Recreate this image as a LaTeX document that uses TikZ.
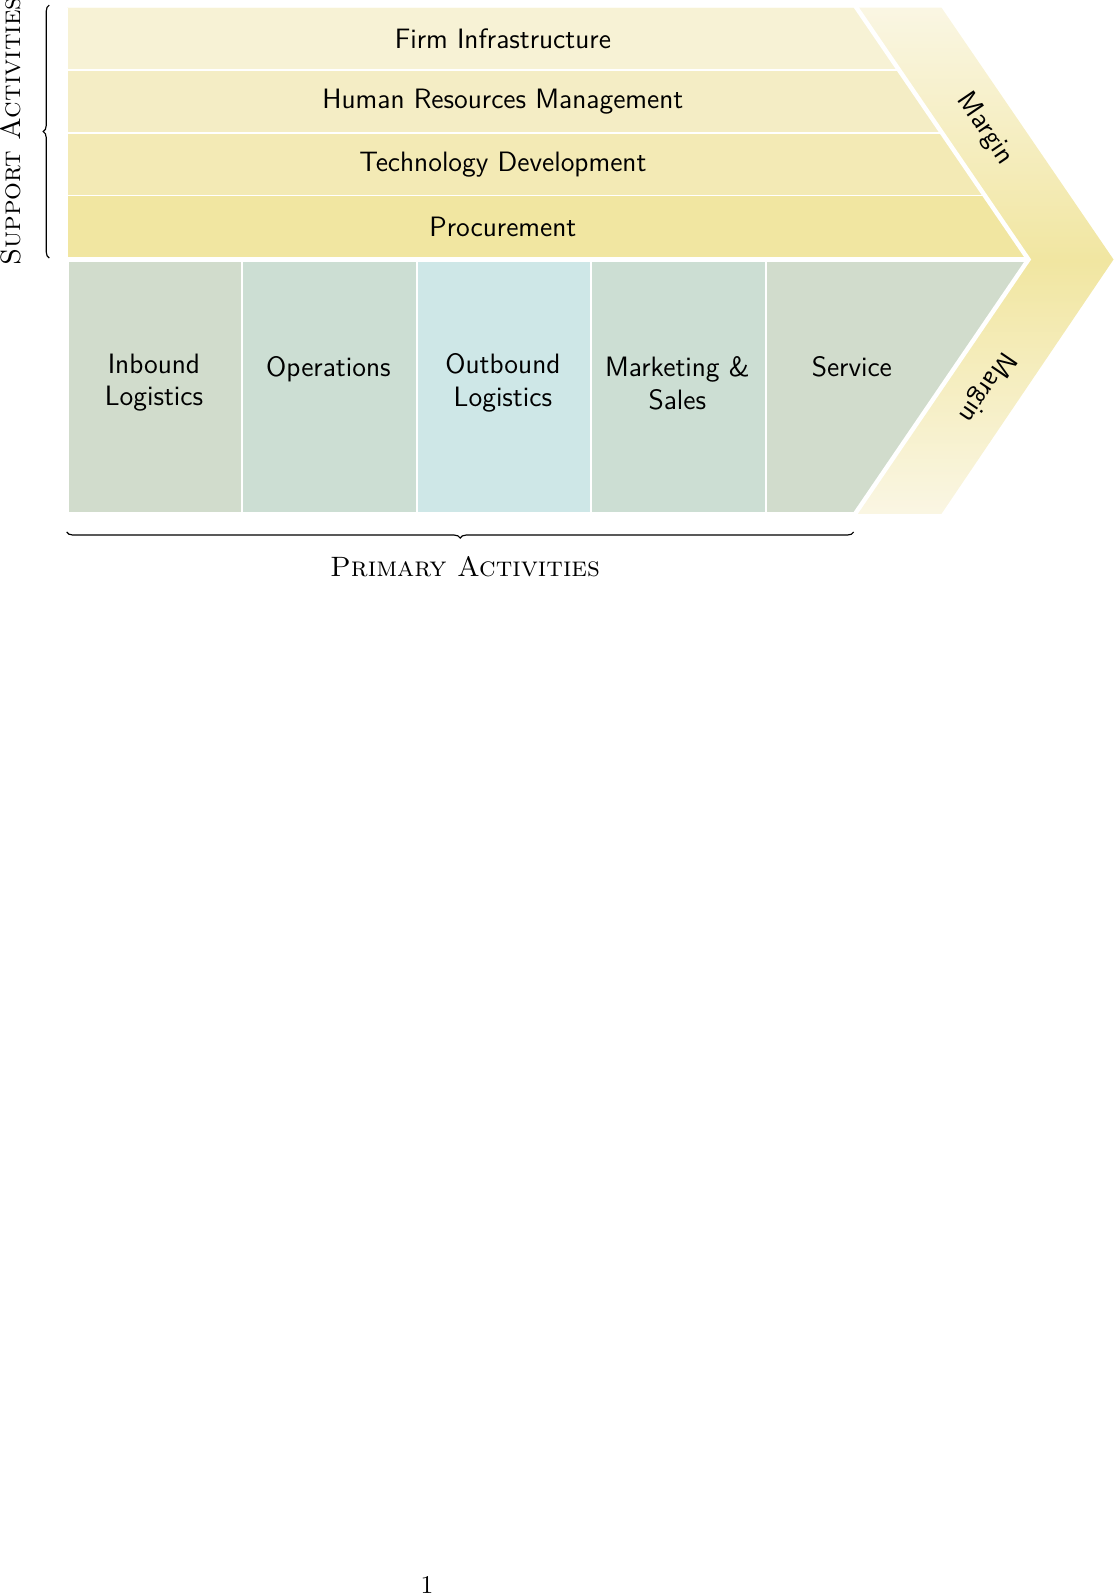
\documentclass[tikz,border=0pt,11pt]{standalone}
\usepackage{tikz}
\usetikzlibrary{positioning,decorations.pathreplacing}
\definecolor{firmcream}{RGB}{247,242,213}
\definecolor{hrcream}{RGB}{244,237,197}
\definecolor{techcream}{RGB}{243,234,181}
\definecolor{procsand}{RGB}{241,230,161}
\definecolor{marginlight}{RGB}{250,246,227}
\definecolor{sagegrey}{RGB}{209,220,204}
\definecolor{sagegreen}{RGB}{204,222,211}
\definecolor{paleaqua}{RGB}{206,231,231}
\tikzset{
  base/.style={font=\sffamily\large, align=center, text=black},
  band/.style={rectangle, anchor=south west, draw=white, line width=0.5pt, minimum width=14.6cm, minimum height=0.948cm, inner sep=0pt},
  column/.style={rectangle, anchor=south west, draw=white, line width=0.9pt, minimum width=2.625cm, minimum height=3.829cm, inner sep=0pt},
  coltext/.style={base, anchor=north, inner sep=0pt},
  gap/.style={draw=white, line width=1.9pt},
  brc/.style={decorate, decoration={brace, amplitude=2.6pt}, line width=0.5pt},
  brcm/.style={decorate, decoration={brace, mirror, amplitude=2.6pt}, line width=0.5pt},
  sidelabel/.style={font=\large\scshape, inner sep=0pt},
  marginlbl/.style={font=\sffamily\large, inner sep=0pt},
}
\begin{document}
\begin{tikzpicture}
  \useasboundingbox (-1.0035,-16.264) rectangle (15.772,7.733);
  \path[top color=marginlight, bottom color=marginlight, middle color=procsand] (11.88,7.62) -- (13.16,7.62) -- (15.75,3.829) -- (13.16,0) -- (11.86,0) -- (14.47,3.829) -- cycle;
  \begin{scope}
    \clip (0,0) -- (0,7.62) -- (11.88,7.62) -- (14.47,3.829) -- (11.86,0) -- cycle;
    \node[band,fill=procsand]  (proc) at (0,3.829) {};
    \node[band,fill=techcream] (tech) at (0,4.777) {};
    \node[band,fill=hrcream]   (hrm)  at (0,5.724) {};
    \node[band,fill=firmcream] (firm) at (0,6.672) {};
    \node[column,fill=sagegrey]  (inb) at (0,0)      {};
    \node[column,fill=sagegreen] (ops) at (2.625,0)  {};
    \node[column,fill=paleaqua]  (outb) at (5.25,0)  {};
    \node[column,fill=sagegreen] (mkt) at (7.875,0)  {};
    \node[column,fill=sagegrey,minimum width=4.2cm] (svc) at (10.5,0) {};
  \end{scope}
  \draw[gap] (11.812,7.72) -- (11.88,7.62) -- (14.47,3.829) -- (11.86,0) -- (11.792,-0.1);
  \draw[gap] (0,3.829) -- (14.47,3.829);
  \node[base] (proctxt) at ([xshift=6.5625cm]proc.west) {Procurement};
  \node[base] (techtxt) at ([xshift=6.5625cm]tech.west) {Technology Development};
  \node[base] (hrmtxt)  at ([xshift=6.5625cm]hrm.west)  {Human Resources Management};
  \node[base] (firmtxt) at ([xshift=6.5625cm]firm.west) {Firm Infrastructure};
  \node[coltext] (inbtxt)  at ([shift={(1.3125,-1.44)}]inb.north west)   {Inbound\\Logistics};
  \node[coltext] (opstxt)  at ([shift={(1.3125,-1.485)}]ops.north west)  {Operations};
  \node[coltext] (outbtxt) at ([shift={(1.3125,-1.44)}]outb.north west)  {Outbound\\Logistics};
  \node[coltext] (mkttxt)  at ([shift={(1.3125,-1.485)}]mkt.north west)  {Marketing \&\\Sales};
  \node[coltext] (svctxt)  at ([shift={(1.3125,-1.485)}]svc.north west)  {Service};
  \node[marginlbl, rotate=-55.8]  (mtop) at (13.816,5.792) {Margin};
  \node[marginlbl, rotate=-124.2] (mbot) at (13.839,1.911) {Margin};
  \coordinate (sup1) at (-0.262,3.851);
  \coordinate (sup2) at (-0.262,7.657);
  \coordinate (pri1) at (0,-0.271);
  \coordinate (pri2) at (11.84,-0.271);
  \draw[brc] (sup1) -- (sup2);
  \draw[brcm] (pri1) -- (pri2);
  \node[sidelabel, rotate=90] (suplbl) at (-0.838,5.755) {Support Activities};
  \node[sidelabel] (prilbl) at (5.993,-0.797) {Primary Activities};
  \node[anchor=base] (pagenum) at (5.42,-16.234) {1};
\end{tikzpicture}
\end{document}
